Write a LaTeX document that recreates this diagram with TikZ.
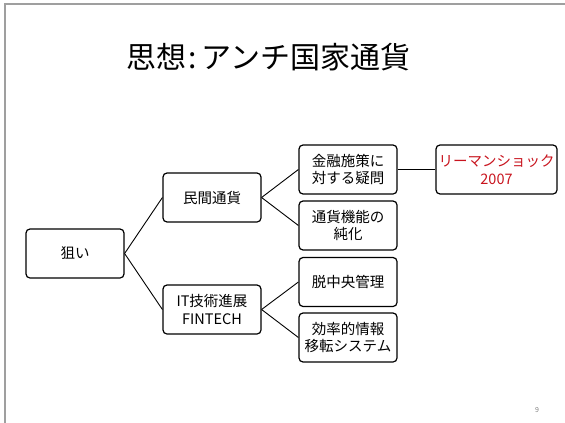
\documentclass[tikz,border=0pt]{standalone}
\usepackage{fontspec}
\setmainfont{Noto Sans CJK JP}
\usepackage{tikz}

\definecolor{slidered}{RGB}{200,20,30}

\begin{document}
\begin{tikzpicture}[x=1pt,y=-1pt,
	box/.style={draw,line width=1.2pt,rounded corners=4pt,minimum width=98pt,minimum height=49pt,
		align=center,inner sep=1pt,font=\fontsize{14.5}{17.5}\selectfont}]
	\useasboundingbox (0,0) rectangle (565,423);
	\draw[gray!75,line width=2pt] (4.5,423) -- (4.5,3.5) -- (565,3.5);
	\node (title) at (268.5,57) {\fontsize{30}{34}\selectfont 思想\hspace{2pt}:\hspace{5pt}アンチ国家通貨};
	\node[box] (aim) at (75,253.5) {狙い};
	\node[box] (private) at (212,197.5) {民間通貨};
	\node[box] (tech) at (212,309.5) {IT技術進展\\FINTECH};
	\node[box] (doubt) at (348,169.5) {金融施策に\\対する疑問};
	\node[box] (pure) at (348,225.5) {通貨機能の\\純化};
	\node[box] (decentral) at (348,282) {脱中央管理};
	\node[box] (transfer) at (348,337.5) {効率的情報\\移転システム};
	\node[box,minimum width=121pt,text=slidered] (lehman) at (496.5,169.5) {リーマンショック\\2007};
	\node[text=gray,font=\fontsize{7}{7}\selectfont] (page) at (537,410) {9};
	\draw[line width=0.9pt] (aim.east) -- (private.west);
	\draw[line width=0.9pt] (aim.east) -- (tech.west);
	\draw[line width=0.9pt] (private.east) -- (doubt.west);
	\draw[line width=0.9pt] (private.east) -- (pure.west);
	\draw[line width=0.9pt] (tech.east) -- (decentral.west);
	\draw[line width=0.9pt] (tech.east) -- (transfer.west);
	\draw[line width=0.9pt] (doubt.east) -- (lehman.west);
\end{tikzpicture}
\end{document}
